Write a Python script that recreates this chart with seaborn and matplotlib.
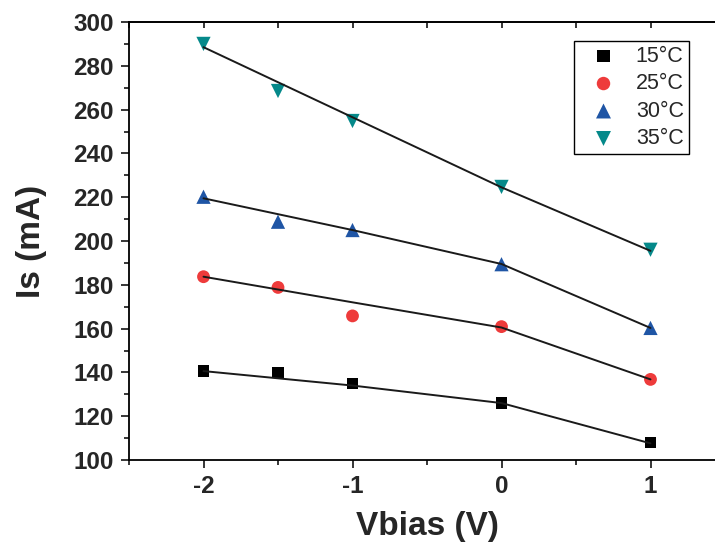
import numpy as np
import pandas as pd
import matplotlib
matplotlib.use("Agg")
import matplotlib.pyplot as plt
from matplotlib.ticker import MultipleLocator
import seaborn as sns

# measured points
vbias = [-2, -1.5, -1, 0, 1]
is_15 = [140.6, 139.9, 135.0, 126.0, 107.9]
is_25 = [183.7, 178.8, 165.8, 160.9, 136.8]
is_30 = [220.2, 208.8, 205.0, 189.4, 160.3]
is_35 = [290.0, 268.5, 254.8, 224.7, 196.0]

# fitted lines as drawn in the figure
vbias_fit = [-2, -1, 0, 1]
fit_15 = [140.6, 134.0, 126.0, 107.6]
fit_25 = [183.7, 172.0, 160.5, 136.8]
fit_30 = [219.5, 205.0, 189.5, 160.3]
fit_35 = [288.5, 256.5, 224.5, 195.5]

labels = ["15°C", "25°C", "30°C", "35°C"]
colors = ["#000000", "#EE3B3B", "#1F55A5", "#05898A"]
markers = ["s", "o", "^", "v"]
sizes = [68, 85, 105, 105]

sns.set_style("ticks")
plt.rcParams["font.family"] = ["Liberation Sans", "DejaVu Sans"]
plt.rcParams["axes.unicode_minus"] = False

fig = plt.figure(figsize=(7.15, 5.52), dpi=100)
ax = fig.add_axes([129 / 715, 1 - 460 / 552, 596 / 715, 438 / 552])

points = [is_15, is_25, is_30, is_35]
fits = [fit_15, fit_25, fit_30, fit_35]

for pts, fit, lab, c, m, s in zip(points, fits, labels, colors, markers, sizes):
    sns.lineplot(x=vbias_fit, y=fit, color="#1a1a1a", lw=1.4, ax=ax,
                 legend=False, label="_nolegend_", zorder=3)
    sns.scatterplot(x=vbias, y=pts, marker=m, color=c, s=s, edgecolor="none",
                    label=lab, ax=ax, zorder=2)

ax.set_xlim(-2.5, 1.5)
ax.set_ylim(100, 300)
ax.xaxis.set_major_locator(MultipleLocator(1))
ax.xaxis.set_minor_locator(MultipleLocator(0.5))
ax.yaxis.set_major_locator(MultipleLocator(20))
ax.yaxis.set_minor_locator(MultipleLocator(10))

for sp in ax.spines.values():
    sp.set_linewidth(1.3)
    sp.set_color("black")

ax.tick_params(axis="both", which="major", direction="out", length=6, width=1.3,
               labelsize=17.5, pad=5, top=False, right=False)
ax.tick_params(axis="both", which="minor", direction="out", length=3.5, width=1.3,
               top=False, right=False)
for t in ax.get_xticklabels() + ax.get_yticklabels():
    t.set_fontweight("bold")

sec = ax.secondary_xaxis("top")
sec.xaxis.set_major_locator(MultipleLocator(0.5))
sec.tick_params(direction="in", length=4, width=1.3, labeltop=False)
sec.spines["top"].set_linewidth(1.3)

ax.set_xlabel("Vbias (V)", fontsize=24, fontweight="bold", labelpad=9)
ax.set_ylabel("Is (mA)", fontsize=24, fontweight="bold", labelpad=19)

leg = ax.legend(loc="upper left", bbox_to_anchor=(574 / 715, 1 - 41 / 552),
                bbox_transform=fig.transFigure, fontsize=15.5, frameon=True,
                fancybox=False, edgecolor="black", handletextpad=0.35,
                handlelength=2.3, labelspacing=0.3, borderpad=0.22,
                borderaxespad=0, markerscale=1.05)
leg.get_frame().set_linewidth(1.0)
leg.get_frame().set_alpha(1)

fig.savefig("out.png", dpi=100)
